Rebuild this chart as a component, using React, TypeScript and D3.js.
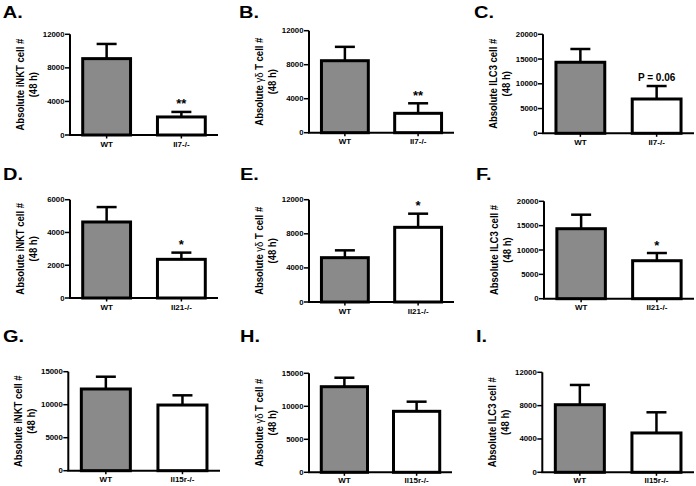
import React from 'react';
import * as d3 from 'd3';

// ---- data ----
const panelLetters = ['A.', 'B.', 'C.', 'D.', 'E.', 'F.', 'G.', 'H.', 'I.'];
const cellTypes = ['iNKT', 'γδ', 'ILC3', 'iNKT', 'γδ', 'ILC3', 'iNKT', 'γδ', 'ILC3'];
const knockouts = ['Il7-/-', 'Il7-/-', 'Il7-/-', 'Il21-/-', 'Il21-/-', 'Il21-/-', 'Il15r-/-', 'Il15r-/-', 'Il15r-/-'];
const wtMeans = [9100, 8470, 14350, 4640, 5200, 14370, 12380, 12970, 8110];
const wtErrors = [1750, 1630, 2680, 910, 860, 2880, 1860, 1360, 2370];
const koMeans = [2150, 2280, 6930, 2360, 8760, 7800, 9950, 9240, 4720];
const koErrors = [600, 1180, 2620, 410, 1600, 1580, 1470, 1460, 2480];
const yMaxes = [12000, 12000, 20000, 6000, 12000, 20000, 15000, 15000, 12000];
const tickSteps = [4000, 4000, 5000, 2000, 4000, 5000, 5000, 5000, 4000];
const significance = ['**', '**', 'P = 0.06', '*', '*', '*', '', '', ''];

// ---- layout (absolute pixel frame per panel) ----
const layout = [
  { ox: 0, oy: 0, left: 70, right: 218, top: 34.3, bottom: 135 },
  { ox: 232, oy: 0, left: 309, right: 454, top: 30.7, bottom: 132.7 },
  { ox: 464, oy: 0, left: 543, right: 694, top: 34.3, bottom: 133.3 },
  { ox: 0, oy: 162, left: 70, right: 218, top: 199.7, bottom: 298 },
  { ox: 232, oy: 162, left: 309, right: 454, top: 199.7, bottom: 302 },
  { ox: 464, oy: 162, left: 544, right: 694, top: 201.3, bottom: 298.7 },
  { ox: 0, oy: 324, left: 68.3, right: 220, top: 371.7, bottom: 470.7 },
  { ox: 232, oy: 324, left: 309, right: 452, top: 373.3, bottom: 472.3 },
  { ox: 464, oy: 324, left: 542.3, right: 694, top: 372.3, bottom: 472.3 },
];
const letterX = [2.7, 239, 474, 3, 240, 476, 3, 240, 476];

const FONT = '"Liberation Sans", Arial, Helvetica, sans-serif';
const GRAY = '#8a8a8a';

function Panel({ i }: { i: number }) {
  const L = layout[i];
  const cats = ['WT', knockouts[i]];
  const means = [wtMeans[i], koMeans[i]];
  const errs = [wtErrors[i], koErrors[i]];
  const x = d3.scaleBand<string>().domain(cats).range([L.left, L.right]).paddingInner(0.36).paddingOuter(0.17);
  const y = d3.scaleLinear().domain([0, yMaxes[i]]).range([L.bottom, L.top]);
  const ticks = d3.range(0, yMaxes[i] + 1, tickSteps[i]);
  const bw = x.bandwidth();
  const midY = (L.top + L.bottom) / 2;
  const koCenter = (x(cats[1]) as number) + bw / 2;
  const koCap = y(means[1] + errs[1]);
  const sig = significance[i];
  const isP = sig.startsWith('P');
  const labelY = Math.min(L.bottom + 11.5, 483);
  return (
    <g>
      <text
        transform={`translate(${letterX[i]},${L.oy + 17.5}) scale(1.25,1)`}
        fontFamily={FONT}
        fontWeight="bold"
        fontSize={16}
      >
        {panelLetters[i]}
      </text>
      {/* y label */}
      <text
        transform={`translate(${L.left - 50},${midY}) scale(1.15,1) rotate(-90)`}
        textAnchor="middle"
        dominantBaseline="central"
        fontFamily={FONT}
        fontWeight="bold"
        fontSize={9.5}
      >
        {cellTypes[i] === 'γδ' ? (
          <>
            Absolute <tspan fontWeight="normal">γδ</tspan> T cell #
          </>
        ) : (
          `Absolute ${cellTypes[i]} cell #`
        )}
      </text>
      <text
        transform={`translate(${L.left - 37},${midY}) scale(1.15,1) rotate(-90)`}
        textAnchor="middle"
        dominantBaseline="central"
        fontFamily={FONT}
        fontWeight="bold"
        fontSize={9.5}
      >
        (48 h)
      </text>
      {/* bars */}
      {cats.map((c, k) => {
        const bx = x(c) as number;
        const cx = bx + bw / 2;
        const capY = y(means[k] + errs[k]);
        return (
          <g key={c}>
            <line x1={cx} x2={cx} y1={y(means[k])} y2={capY} stroke="#000" strokeWidth={2.5} />
            <line x1={cx - 10} x2={cx + 10} y1={capY} y2={capY} stroke="#000" strokeWidth={2.5} />
            <rect
              x={bx}
              y={y(means[k])}
              width={bw}
              height={L.bottom - y(means[k])}
              fill={k === 0 ? GRAY : '#fff'}
              stroke="#000"
              strokeWidth={3}
            />
            <line x1={cx} x2={cx} y1={L.bottom} y2={L.bottom + 3.5} stroke="#000" strokeWidth={1.5} />
            <text
              x={cx}
              y={labelY}
              textAnchor="middle"
              fontFamily={FONT}
              fontWeight="bold"
              fontSize={8}
            >
              {c}
            </text>
          </g>
        );
      })}
      {/* axes */}
      <line x1={L.left} x2={L.left} y1={L.top} y2={L.bottom} stroke="#000" strokeWidth={2} />
      <line x1={L.left - 1} x2={L.right} y1={L.bottom} y2={L.bottom} stroke="#000" strokeWidth={2} />
      {ticks.map((t) => (
        <g key={t}>
          <line x1={L.left - 5} x2={L.left} y1={y(t)} y2={y(t)} stroke="#000" strokeWidth={1.5} />
          <text
            x={L.left - 5.5}
            y={y(t)}
            textAnchor="end"
            dominantBaseline="central"
            fontFamily={FONT}
            fontWeight="bold"
            fontSize={7.8}
          >
            {t}
          </text>
        </g>
      ))}
      {sig && (
        <text
          x={koCenter}
          y={isP ? koCap - 5 : koCap - 3.5}
          textAnchor="middle"
          fontFamily={FONT}
          fontWeight="bold"
          fontSize={isP ? 10 : 13}
        >
          {sig}
        </text>
      )}
    </g>
  );
}

export default function App() {
  return (
    <div style={{ position: 'absolute', left: 0, top: 0 }}>
      <svg width={696} height={486} style={{ display: 'block', background: '#fff' }}>
        {panelLetters.map((_, i) => (
          <Panel key={i} i={i} />
        ))}
      </svg>
    </div>
  );
}
